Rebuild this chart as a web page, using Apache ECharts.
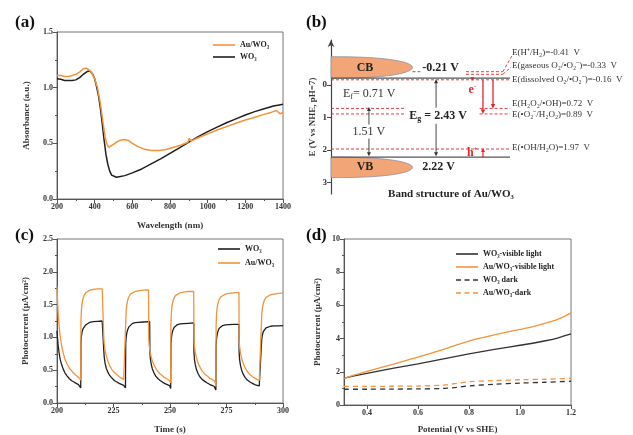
<!DOCTYPE html>
<html><head><meta charset="utf-8">
<script src="https://cdn.jsdelivr.net/npm/echarts@6/dist/echarts.min.js"></script>
<style>html,body{margin:0;padding:0;background:#fff}#c{width:633px;height:435px}</style>
</head><body><div id="c"></div>
<script>
// ---------------- DATA ----------------
// (a) UV-vis absorbance [wavelength nm, absorbance]
const absAu = [[200,1.11],[220,1.11],[240,1.10],[260,1.10],[280,1.11],[300,1.12],[320,1.14],[340,1.17],[355,1.175],[370,1.16],[385,1.13],[400,1.08],[415,1.00],[430,0.86],[445,0.68],[455,0.56],[465,0.49],[475,0.465],[485,0.47],[500,0.49],[520,0.515],[540,0.53],[560,0.535],[580,0.525],[600,0.50],[630,0.47],[660,0.45],[700,0.435],[740,0.435],[780,0.445],[820,0.465],[860,0.485],[895,0.51],[902,0.545],[910,0.52],[950,0.55],[1000,0.585],[1050,0.62],[1100,0.65],[1150,0.68],[1200,0.71],[1250,0.735],[1300,0.76],[1340,0.78],[1365,0.795],[1375,0.785],[1385,0.765],[1400,0.78]];
const absWO3 = [[200,1.08],[220,1.075],[240,1.065],[260,1.065],[280,1.065],[300,1.07],[320,1.09],[340,1.12],[360,1.145],[375,1.15],[390,1.12],[400,1.08],[410,1.01],[420,0.93],[430,0.82],[440,0.68],[450,0.53],[460,0.40],[470,0.31],[480,0.25],[490,0.215],[500,0.20],[515,0.195],[530,0.20],[560,0.21],[600,0.235],[650,0.27],[700,0.315],[750,0.36],[800,0.41],[850,0.46],[900,0.51],[950,0.56],[1000,0.605],[1050,0.645],[1100,0.685],[1150,0.72],[1200,0.755],[1250,0.785],[1300,0.81],[1350,0.835],[1380,0.845],[1390,0.83],[1400,0.85]];

// (b) band structure (V vs NHE)
const bandNames = ['CB', 'VB'];
const bandEdgeValues = [-0.21, 2.22];
const bandOuterValues = [-0.87, 2.85];
const bandEdgeLabels = ['-0.21 V', '2.22 V'];
const fermiLevel = 0.71;
const fermiLabel = '{m|E}{s|f}{m|= 0.71 V}';
const gapLabel = '{m|E}{s|g}{m| = 2.43 V}';
const offsetLabel = '1.51 V';
const redoxValues = [-0.41, -0.33, -0.16, 0.72, 0.89, 1.97];
const redoxLabels = ['E(H⁺/H₂)=-0.41  V', 'E(gaseous O₂/•O₂⁻)=-0.33  V', 'E(dissolved O₂/•O₂⁻)=-0.16  V', 'E(H₂O₂/•OH)=0.72  V', 'E(•O₂⁻/H₂O₂)=0.89  V', 'E(•OH/H₂O)=1.97  V'];
const bTicks = [0, 1, 2, 3];
const bTitle = 'Band structure of Au/WO₃';

// (c) transient photocurrent [time s, µA/cm²]
const itWO3 = [[200,1.1],[200.2,1.0],[200.5,0.88],[200.9,0.77],[201.4,0.67],[202,0.59],[202.7,0.52],[203.5,0.46],[204.5,0.41],[205.5,0.37],[206.5,0.34],[207.5,0.32],[208.5,0.30],[209.5,0.28],[210.3,0.26],[210.5,0.23],
[210.6,0.92],[210.8,1.02],[211.1,1.08],[211.5,1.13],[212,1.16],[212.7,1.19],[213.5,1.21],[214.5,1.23],[216,1.24],[218,1.245],[220,1.25],[220.6,1.25],
[220.7,0.80],[220.9,0.70],[221.3,0.60],[221.8,0.53],[222.5,0.47],[223.3,0.42],[224.3,0.38],[225.5,0.34],[226.5,0.32],[227.5,0.30],[228.5,0.285],[229.5,0.27],[230.2,0.26],[230.3,0.23],
[230.4,0.90],[230.6,1.00],[230.9,1.07],[231.3,1.12],[231.8,1.16],[232.5,1.19],[233.3,1.21],[234.5,1.225],[236,1.23],[238,1.235],[241,1.24],
[241.1,0.78],[241.3,0.68],[241.7,0.59],[242.2,0.52],[242.9,0.46],[243.7,0.41],[244.7,0.37],[245.8,0.34],[246.8,0.315],[247.8,0.295],[248.8,0.28],[249.8,0.265],[250.2,0.255],[250.3,0.22],
[250.4,0.88],[250.6,0.99],[250.9,1.06],[251.3,1.11],[251.8,1.15],[252.5,1.18],[253.3,1.195],[254.5,1.205],[256,1.21],[258,1.215],[260.5,1.22],
[260.6,0.77],[260.8,0.67],[261.2,0.58],[261.7,0.51],[262.4,0.45],[263.2,0.40],[264.2,0.36],[265.4,0.33],[266.5,0.305],[267.5,0.285],[268.5,0.27],[269.5,0.255],[270.1,0.24],[270.3,0.20],
[270.4,0.87],[270.6,0.98],[270.9,1.05],[271.3,1.10],[271.8,1.14],[272.5,1.165],[273.3,1.18],[274.5,1.19],[276,1.195],[278,1.20],[280.5,1.20],
[280.6,0.76],[280.8,0.66],[281.2,0.57],[281.7,0.50],[282.4,0.44],[283.2,0.39],[284.2,0.35],[285.4,0.32],[286.5,0.30],[287.5,0.28],[288.5,0.27],[289.5,0.26],[290.2,0.25],[290.3,0.24],
[290.4,0.86],[290.6,0.97],[290.9,1.04],[291.3,1.09],[291.8,1.12],[292.5,1.145],[293.3,1.16],[294.5,1.17],[296,1.175],[298,1.175],[300,1.18]];
const itAu = [[200,1.77],[200.2,1.6],[200.5,1.38],[200.9,1.18],[201.4,1.02],[202,0.88],[202.7,0.77],[203.5,0.67],[204.5,0.59],[205.5,0.53],[206.5,0.49],[207.5,0.45],[208.5,0.42],[209.5,0.39],[210.3,0.37],[210.5,0.35],
[210.6,1.25],[210.8,1.42],[211.1,1.52],[211.5,1.59],[212,1.64],[212.7,1.68],[213.5,1.705],[214.5,1.72],[216,1.73],[218,1.74],[220,1.74],[220.6,1.74],
[220.7,1.00],[220.9,0.90],[221.3,0.80],[221.8,0.72],[222.5,0.64],[223.3,0.57],[224.3,0.51],[225.5,0.46],[226.5,0.43],[227.5,0.40],[228.5,0.38],[229.5,0.36],[230.2,0.345],[230.3,0.33],
[230.4,1.22],[230.6,1.40],[230.9,1.50],[231.3,1.57],[231.8,1.62],[232.5,1.66],[233.3,1.685],[234.5,1.70],[236,1.71],[238,1.72],[240.5,1.725],
[240.6,0.98],[240.8,0.88],[241.2,0.78],[241.7,0.70],[242.4,0.62],[243.2,0.56],[244.2,0.50],[245.4,0.45],[246.5,0.42],[247.5,0.39],[248.5,0.37],[249.5,0.35],[250.2,0.34],[250.3,0.31],
[250.4,1.20],[250.6,1.38],[250.9,1.48],[251.3,1.55],[251.8,1.60],[252.5,1.64],[253.3,1.665],[254.5,1.68],[256,1.69],[258,1.70],[260.5,1.70],
[260.6,0.97],[260.8,0.87],[261.2,0.77],[261.7,0.69],[262.4,0.61],[263.2,0.55],[264.2,0.49],[265.4,0.44],[266.5,0.41],[267.5,0.38],[268.5,0.36],[269.5,0.34],[270.1,0.30],[270.3,0.25],
[270.4,1.18],[270.6,1.36],[270.9,1.46],[271.3,1.53],[271.8,1.58],[272.5,1.62],[273.3,1.645],[274.5,1.66],[276,1.67],[278,1.68],[280.5,1.685],
[280.6,0.96],[280.8,0.86],[281.2,0.76],[281.7,0.68],[282.4,0.60],[283.2,0.54],[284.2,0.48],[285.4,0.43],[286.5,0.40],[287.5,0.38],[288.5,0.36],[289.5,0.345],[290.2,0.335],[290.3,0.32],
[290.4,1.17],[290.6,1.35],[290.9,1.45],[291.3,1.52],[291.8,1.57],[292.5,1.61],[293.3,1.635],[294.5,1.65],[296,1.66],[298,1.67],[300,1.675]];

// (d) LSV [potential V vs SHE, µA/cm²]
const lsvWO3Light = [[0.31,1.62],[0.35,1.75],[0.4,1.9],[0.5,2.2],[0.6,2.48],[0.7,2.78],[0.8,3.08],[0.9,3.35],[1.0,3.6],[1.05,3.72],[1.1,3.87],[1.15,4.05],[1.2,4.28]];
const lsvAuLight = [[0.31,1.6],[0.35,1.8],[0.4,2.03],[0.5,2.45],[0.6,2.88],[0.7,3.35],[0.8,3.85],[0.9,4.22],[1.0,4.55],[1.05,4.72],[1.1,4.93],[1.15,5.17],[1.2,5.55]];
const lsvWO3Dark = [[0.31,0.95],[0.4,0.95],[0.5,0.96],[0.6,0.97],[0.7,1.0],[0.75,1.06],[0.8,1.15],[0.9,1.25],[1.0,1.32],[1.1,1.37],[1.2,1.43]];
const lsvAuDark = [[0.31,1.12],[0.4,1.12],[0.5,1.13],[0.6,1.14],[0.7,1.2],[0.75,1.3],[0.8,1.4],[0.9,1.47],[1.0,1.52],[1.1,1.55],[1.2,1.6]];
const dTicks = [0.4, 0.6, 0.8, 1.0, 1.2];

// ---------------- STYLE ----------------
const FONT = '"Liberation Serif","Times New Roman",serif';
const ORANGE = '#F5923A', BLACK = '#1f1f1f', RED = '#E4262B';
const ICON_SOLID = 'path://M0,0H22V1.6H0Z';
const ICON_DASH = 'path://M0,0H5V1.6H0Z M8.5,0H13.5V1.6H8.5Z M17,0H22V1.6H17Z';
const lbl = {fontFamily: FONT, fontWeight: 'bold', fontSize: 8, color: '#333', margin: 4};
const nameSt = {fontFamily: FONT, fontWeight: 'bold', fontSize: 9, color: '#333'};
function ax(extra) {
  return Object.assign({
    type: 'value', nameLocation: 'middle', nameTextStyle: nameSt,
    axisLine: {show: true, lineStyle: {color: '#555', width: 1}},
    axisTick: {show: true, inside: false, length: 4, lineStyle: {color: '#555'}},
    minorTick: {show: true, splitNumber: 2, length: 2, lineStyle: {color: '#555'}},
    splitLine: {show: false},
    axisLabel: Object.assign({}, lbl)
  }, extra);
}
const f1 = v => v.toFixed(1);
const f0 = v => String(v);

function renderBand(params, api) {
  const X = f => api.coord([f, 0])[0];
  const Y = e => api.coord([0, e])[1];
  const grey = '#555';
  const ch = [];
  const dash = (x1, x2, y1, y2) => ch.push({type: 'line', shape: {x1, y1, x2, y2: (y2 === undefined ? y1 : y2)}, style: {stroke: RED, lineWidth: 0.9, lineDash: [3, 2]}});
  const solid = (x1, y1, x2, y2, c, w) => ch.push({type: 'line', shape: {x1, y1, x2, y2}, style: {stroke: c, lineWidth: w || 1}});
  const head = (x, y, dir, c, s) => { s = s || 2.6; ch.push({type: 'polygon', shape: {points: [[x - s, y - dir * s * 2], [x + s, y - dir * s * 2], [x, y]]}, style: {fill: c}}); };
  const txt = (text, x, y, font, fill, align, rich, bg) => ch.push({type: 'text', x, y, z2: 10, style: {text, font, fill, align: align || 'left', verticalAlign: 'middle', rich, backgroundColor: bg, padding: bg ? [1, 1] : 0}});
  const x0 = X(0), xEnd = X(1), tip = X(0.455);
  for (let i = 0; i < 2; i++) {
    const yE = Y(bandEdgeValues[i]), yO = Y(bandOuterValues[i]);
    const yc = (yE + yO) / 2, ry = Math.abs(yE - yO) / 2, rx = tip - x0;
    const pts = [];
    for (let k = 0; k <= 40; k++) { const t = Math.PI * k / 40; pts.push([x0 + rx * Math.pow(Math.sin(t), 0.8), yc - ry * Math.cos(t)]); }
    ch.push({type: 'polygon', shape: {points: pts}, style: {fill: '#F2A577', stroke: '#8C8FA0', lineWidth: 0.8}});
    txt(bandNames[i], X(0.19), yc, 'bold 12px ' + FONT, '#222', 'center');
    txt(bandEdgeLabels[i], X(0.51), yc, 'bold 12px ' + FONT, '#222', 'left');
  }
  // red redox levels
  dash(x0, xEnd, Y(redoxValues[2]));
  dash(x0, X(0.413), Y(redoxValues[3])); dash(x0, X(0.413), Y(redoxValues[4]));
  dash(X(0.83), xEnd, Y(redoxValues[3])); dash(X(0.83), xEnd, Y(redoxValues[4]));
  dash(x0, xEnd, Y(redoxValues[5]));
  dash(X(0.754), X(0.96), Y(redoxValues[0])); dash(X(0.754), X(0.96), Y(redoxValues[1]));
  dash(X(0.455), X(0.51), Y(redoxValues[0]));
  const lOff = [-19, -9, 0, -5, 1, -1];
  dash(X(0.96), xEnd + 2, Y(redoxValues[0]), Y(redoxValues[0]) + lOff[0] + 3);
  dash(X(0.96), xEnd + 1, Y(redoxValues[1]), Y(redoxValues[1]) + lOff[1] + 2);
  redoxLabels.forEach((t, i) => txt(t, xEnd + 2, Y(redoxValues[i]) + lOff[i], '9px ' + FONT, '#333', 'left'));
  // band edges (black)
  bandEdgeValues.forEach(v => solid(x0, Y(v), xEnd, Y(v), grey, 1.2));
  // Eg arrow
  const xg = X(0.587);
  solid(xg, Y(bandEdgeValues[0]) + 4, xg, Y(bandEdgeValues[1]) - 4, '#333', 0.9);
  head(xg, Y(bandEdgeValues[0]) + 1, -1, '#333', 2);
  head(xg, Y(bandEdgeValues[1]) - 1, 1, '#333', 2);
  const rich = {m: {font: 'bold 12px ' + FONT, fill: '#222', lineHeight: 14, verticalAlign: 'middle'}, s: {font: 'bold 8px ' + FONT, fill: '#222', lineHeight: 14, verticalAlign: 'bottom'}};
  txt(gapLabel, xg + 2, (Y(bandEdgeValues[0]) + Y(bandEdgeValues[1])) / 2 - 2, 'bold 12px ' + FONT, '#222', 'center', rich, '#fff');
  // Ef -> VB arrow (1.51 V)
  const xf = X(0.212);
  solid(xf, Y(fermiLevel) + 3, xf, Y(bandEdgeValues[1]) - 4, '#333', 0.9);
  head(xf, Y(fermiLevel) - 1, -1, '#333', 2);
  head(xf, Y(bandEdgeValues[1]) - 1, 1, '#333', 2);
  txt(offsetLabel, xf, (Y(fermiLevel) + Y(bandEdgeValues[1])) / 2 - 1, '12px ' + FONT, '#333', 'center', null, '#fff');
  const richF = {m: {font: '12px ' + FONT, fill: '#333', lineHeight: 14, verticalAlign: 'middle'}, s: {font: '8px ' + FONT, fill: '#333', lineHeight: 14, verticalAlign: 'bottom'}};
  txt(fermiLabel, X(0.067), Y(fermiLevel) - 14, '12px ' + FONT, '#333', 'left', richF);
  // red electron arrows
  const xr1 = X(0.849), xr2 = X(0.905);
  solid(xr1, Y(redoxValues[2]), xr1, Y(redoxValues[4]) - 4, RED, 1.3); head(xr1, Y(redoxValues[4]), 1, RED, 2.2);
  solid(xr2, Y(redoxValues[2]), xr2, Y(redoxValues[3]) - 4, RED, 1.3); head(xr2, Y(redoxValues[3]), 1, RED, 2.2);
  head(X(0.79), Y(redoxValues[2]) + 1, 1, RED, 1.8);
  const richE = {b: {font: 'bold 12px ' + FONT, fill: RED, lineHeight: 14, verticalAlign: 'middle'}, p: {font: 'bold 7px ' + FONT, fill: RED, lineHeight: 14, verticalAlign: 'top'}};
  txt('{b|e}{p|-}', X(0.79), Y(redoxValues[2]) + 10, 'bold 12px ' + FONT, RED, 'center', richE);
  txt('{b|h}{p|+}', X(0.79), Y(redoxValues[5]) + 4, 'bold 12px ' + FONT, RED, 'center', richE);
  solid(xr1, Y(bandEdgeValues[1]), xr1, Y(redoxValues[5]) + 3, RED, 1.2); head(xr1, Y(redoxValues[5]) - 1, -1, RED, 2);
  txt(bTitle, X(0.67), Y(bandOuterValues[1]) + 17, 'bold 11px ' + FONT, '#222', 'center');
  return {type: 'group', children: ch};
}

const chart = echarts.init(document.getElementById('c'), null, {renderer: 'canvas'});
const panelTitle = (t, l, tp) => ({text: t, left: l, top: tp, textStyle: {fontFamily: FONT, fontWeight: 'bold', fontSize: 17, color: '#111'}});
const legSt = {fontFamily: FONT, fontWeight: 'bold', fontSize: 8, color: '#222'};
const gridBox = {show: true, borderColor: '#777', borderWidth: 1, backgroundColor: 'transparent'};
const legItem = (name, dashed) => ({name, icon: dashed ? ICON_DASH : ICON_SOLID});
chart.setOption({
  animation: false,
  backgroundColor: '#fff',
  title: [panelTitle('(a)', 10, 9), panelTitle('(b)', 301, 9), panelTitle('(c)', 10, 222), panelTitle('(d)', 301, 222)],
  grid: [
    Object.assign({left: 57, top: 32, width: 226, height: 167}, gridBox),
    {left: 331, top: 40, width: 179, height: 154, show: false},
    Object.assign({left: 57, top: 239, width: 226, height: 167}, gridBox),
    Object.assign({left: 344, top: 239, width: 227, height: 167}, gridBox)
  ],
  legend: [
    {data: [legItem('Au/WO₃'), legItem('WO₃')], orient: 'vertical', left: 208, top: 36, itemWidth: 22, itemHeight: 2, itemGap: 4, textStyle: legSt},
    {data: [legItem('WO₃ '), legItem('Au/WO₃ ')], orient: 'vertical', left: 213, top: 240, itemWidth: 22, itemHeight: 2, itemGap: 6, textStyle: legSt},
    {data: [legItem('WO₃-visible light'), legItem('Au/WO₃-visible light'), legItem('WO₃ dark', true), legItem('Au/WO₃-dark', true)], orient: 'vertical', left: 451, top: 245, itemWidth: 22, itemHeight: 2, itemGap: 5, textStyle: legSt}
  ],
  xAxis: [
    ax({gridIndex: 0, min: 200, max: 1400, interval: 200, name: 'Wavelength (nm)', nameGap: 22, axisLabel: Object.assign({}, lbl, {formatter: f0})}),
    {gridIndex: 1, type: 'value', min: 0, max: 1, show: false},
    ax({gridIndex: 2, min: 200, max: 300, interval: 25, name: 'Time (s)', nameGap: 22, axisLabel: Object.assign({}, lbl, {formatter: f0})}),
    ax({gridIndex: 3, min: 0.31, max: 1.2, name: 'Potential (V vs SHE)', nameGap: 20,
        minorTick: {show: false},
        axisTick: {show: true, length: 4, lineStyle: {color: '#555'}, customValues: dTicks},
        axisLabel: Object.assign({}, lbl, {customValues: dTicks, formatter: f1})})
  ],
  yAxis: [
    ax({gridIndex: 0, min: 0, max: 1.5, interval: 0.5, name: 'Absorbance (a.u.)', nameGap: 26, axisLabel: Object.assign({}, lbl, {formatter: f1})}),
    ax({gridIndex: 1, inverse: true, min: -1.385, max: 3.354, name: 'E (V vs NHE, pH=7)', nameGap: 14,
        axisLine: {show: true, lineStyle: {color: '#444', width: 1.2}, symbol: ['none', 'arrow'], symbolSize: [5, 7]},
        minorTick: {show: false},
        axisTick: {show: true, length: 4, lineStyle: {color: '#444'}, customValues: bTicks},
        axisLabel: Object.assign({}, lbl, {fontSize: 9, customValues: bTicks})}),
    ax({gridIndex: 2, min: 0, max: 2.5, interval: 0.5, name: 'Photocurrent (μA/cm²)', nameGap: 27, axisLabel: Object.assign({}, lbl, {formatter: f1})}),
    ax({gridIndex: 3, min: 0, max: 10, interval: 2, name: 'Photocurrent (μA/cm²)', nameGap: 22})
  ],
  series: [
    {name: 'WO₃', type: 'line', xAxisIndex: 0, yAxisIndex: 0, data: absWO3, symbol: 'none', lineStyle: {color: BLACK, width: 1.5}, itemStyle: {color: BLACK}},
    {name: 'Au/WO₃', type: 'line', xAxisIndex: 0, yAxisIndex: 0, data: absAu, symbol: 'none', lineStyle: {color: ORANGE, width: 1.5}, itemStyle: {color: ORANGE}},
    {type: 'custom', xAxisIndex: 1, yAxisIndex: 1, data: [[0, 0]], renderItem: renderBand, clip: false, silent: true},
    {name: 'WO₃ ', type: 'line', xAxisIndex: 2, yAxisIndex: 2, data: itWO3, symbol: 'none', lineStyle: {color: BLACK, width: 1.3}, itemStyle: {color: BLACK}},
    {name: 'Au/WO₃ ', type: 'line', xAxisIndex: 2, yAxisIndex: 2, data: itAu, symbol: 'none', lineStyle: {color: ORANGE, width: 1.3}, itemStyle: {color: ORANGE}},
    {name: 'WO₃-visible light', type: 'line', xAxisIndex: 3, yAxisIndex: 3, data: lsvWO3Light, symbol: 'none', smooth: 0.3, lineStyle: {color: '#333', width: 1.3}, itemStyle: {color: '#333'}},
    {name: 'Au/WO₃-visible light', type: 'line', xAxisIndex: 3, yAxisIndex: 3, data: lsvAuLight, symbol: 'none', smooth: 0.3, lineStyle: {color: ORANGE, width: 1.3}, itemStyle: {color: ORANGE}},
    {name: 'WO₃ dark', type: 'line', xAxisIndex: 3, yAxisIndex: 3, data: lsvWO3Dark, symbol: 'none', smooth: 0.3, lineStyle: {color: '#333', width: 1.3, type: [5, 4]}, itemStyle: {color: '#333'}},
    {name: 'Au/WO₃-dark', type: 'line', xAxisIndex: 3, yAxisIndex: 3, data: lsvAuDark, symbol: 'none', smooth: 0.3, lineStyle: {color: ORANGE, width: 1.3, type: [5, 4]}, itemStyle: {color: ORANGE}}
  ]
});
</script></body></html>
